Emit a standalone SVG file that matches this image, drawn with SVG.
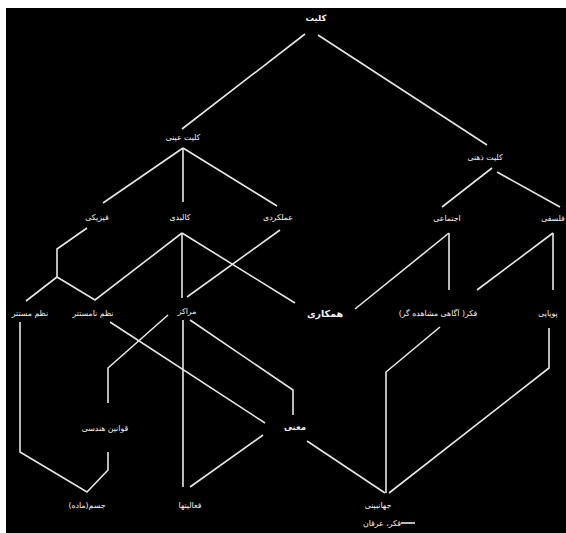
<svg xmlns="http://www.w3.org/2000/svg" width="566" height="533" viewBox="0 0 566 533">
<style>
.bg{fill:#000}
.c{fill:none;stroke:#e6e6e6;stroke-width:1.6;stroke-linejoin:miter;stroke-linecap:butt}
text{font-family:"DejaVu Sans","Noto Sans",sans-serif;font-size:7.8px;fill:#f2f2f2;text-anchor:middle;dominant-baseline:central;direction:rtl;unicode-bidi:embed}
.b{font-weight:bold;font-size:8.5px}
.lg{font-size:9.5px;font-weight:bold}
</style>
<rect x="0" y="0" width="566" height="533" fill="#fff"/>
<rect class="bg" x="6" y="8" width="560" height="525"/>
<g id="connectors">
<line class="c" x1="305" y1="34" x2="182" y2="129"/>
<line class="c" x1="318" y1="35" x2="487" y2="145"/>
<line class="c" x1="183" y1="148" x2="103" y2="203"/>
<line class="c" x1="183" y1="148" x2="183" y2="202"/>
<line class="c" x1="183" y1="148" x2="277" y2="206"/>
<line class="c" x1="492" y1="168" x2="442" y2="207"/>
<line class="c" x1="497" y1="172" x2="560" y2="207"/>
<polyline class="c" points="87,228 57,249 57,277 26,301"/>
<polyline class="c" points="57,277 95,300 182,233"/>
<line class="c" x1="182" y1="233" x2="182" y2="298"/>
<line class="c" x1="182" y1="233" x2="295" y2="303"/>
<line class="c" x1="280" y1="230" x2="187" y2="297"/>
<line class="c" x1="449" y1="233" x2="355" y2="309"/>
<line class="c" x1="449" y1="233" x2="449" y2="290"/>
<line class="c" x1="553" y1="233" x2="477" y2="290"/>
<line class="c" x1="553" y1="233" x2="553" y2="290"/>
<polyline class="c" points="20,322 20,452 87,492 108,470 108,452"/>
<polyline class="c" points="168,315 108,368 108,403"/>
<line class="c" x1="110" y1="322" x2="265" y2="423"/>
<line class="c" x1="183" y1="320" x2="183" y2="487"/>
<polyline class="c" points="190,320 293,390 293,415"/>
<line class="c" x1="263" y1="435" x2="190" y2="487"/>
<line class="c" x1="307" y1="441" x2="385" y2="493"/>
<polyline class="c" points="440,327 386,372 386,493"/>
<polyline class="c" points="549,328 549,368 389,493"/>
</g>
<g id="n-kolliat"><text class="b" x="316" y="18">کلیت</text></g>
<g id="n-eyni"><text x="183" y="137">کلیت عینی</text></g>
<g id="n-zehni"><text x="485" y="157">کلیت ذهنی</text></g>
<g id="n-fiziki"><text x="97" y="217">فیزیکی</text></g>
<g id="n-kalbadi"><text x="180" y="217">کالبدی</text></g>
<g id="n-amalkardi"><text x="278" y="217">عملکردی</text></g>
<g id="n-ejtemai"><text x="447" y="218">اجتماعی</text></g>
<g id="n-falsafi"><text x="553" y="218">فلسفی</text></g>
<g id="n-mostatar"><text x="30" y="313">نظم مستتر</text></g>
<g id="n-namostatar"><text x="93" y="313">نظم نامستتر</text></g>
<g id="n-marakez"><text x="187" y="311">مراکز</text></g>
<g id="n-hamkari"><text class="lg" x="325" y="313">همکاری</text></g>
<g id="n-fekr"><text x="438" y="313">فکر( آگاهی مشاهده گر)</text></g>
<g id="n-poyai"><text x="548" y="313">پویایی</text></g>
<g id="n-ghavanin"><text x="105" y="428">قوانین هندسی</text></g>
<g id="n-mana"><text class="b" x="295" y="427">معنی</text></g>
<g id="n-jesm"><text x="87" y="505">جسم(ماده)</text></g>
<g id="n-faaliat"><text x="190" y="505">فعالیتها</text></g>
<g id="n-jahanbini"><text x="378" y="505">جهانبینی</text></g>
<g id="n-erfan"><text x="382" y="523">فکر، عرفان</text><line class="c" x1="401" y1="523" x2="415" y2="523"/></g>
</svg>
